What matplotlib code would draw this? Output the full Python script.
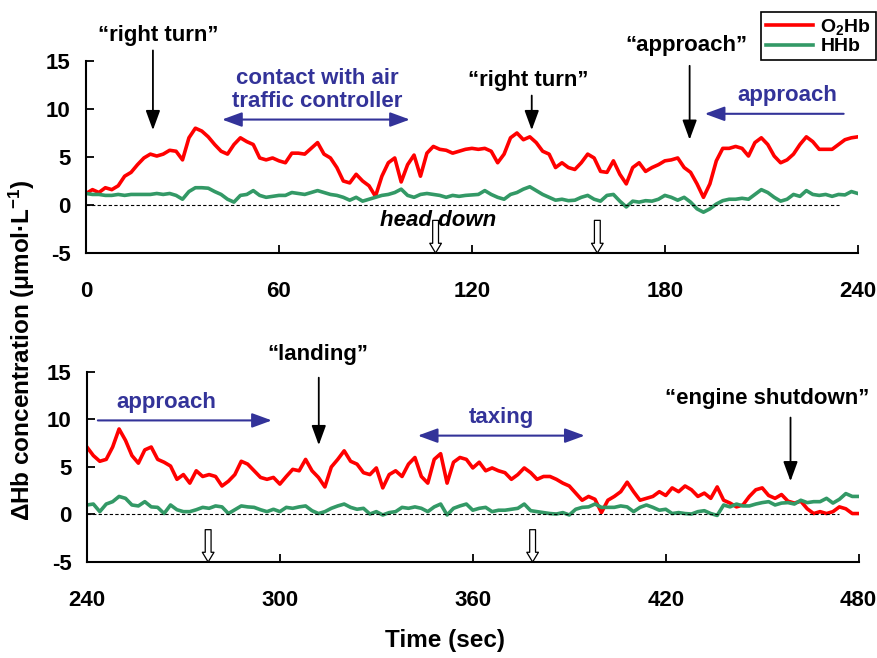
import numpy as np
import matplotlib
matplotlib.use("Agg")
import matplotlib.pyplot as plt

plt.rcParams['font.family'] = ['Liberation Sans', 'DejaVu Sans']
plt.rcParams['font.weight'] = 'bold'
plt.rcParams['axes.unicode_minus'] = False
plt.rcParams['mathtext.fontset'] = 'custom'
plt.rcParams['mathtext.rm'] = 'Liberation Sans:bold'
plt.rcParams['mathtext.bf'] = 'Liberation Sans:bold'
plt.rcParams['mathtext.it'] = 'Liberation Sans:bold:italic'

# time axis, 2 s steps
t_top = np.arange(0, 241, 2)
t_bot = np.arange(240, 481, 2)

o2hb_top = [1.2, 1.6, 1.3, 1.8, 1.6, 2.0, 3.0, 3.4, 4.2, 4.9, 5.3, 5.1, 5.3, 5.7, 5.6,
            4.7, 7.0, 8.0, 7.7, 7.1, 6.3, 5.6, 5.3, 6.3, 7.0, 6.6, 6.3, 4.9, 4.7, 4.9,
            4.6, 4.4, 5.4, 5.4, 5.3, 5.9, 6.5, 5.3, 4.9, 3.9, 2.5, 2.3, 3.2, 2.5, 2.0,
            0.9, 3.0, 4.4, 4.9, 2.4, 4.2, 5.2, 3.0, 5.4, 6.1, 5.8, 5.7, 5.4, 5.6, 5.8,
            5.9, 5.8, 5.9, 5.6, 4.4, 5.3, 7.0, 7.5, 6.8, 7.1, 6.5, 5.6, 5.3, 3.9, 4.4,
            3.9, 3.7, 4.4, 5.3, 4.9, 3.5, 3.4, 4.6, 3.2, 2.2, 3.9, 4.4, 3.5, 3.9, 4.2,
            4.6, 4.7, 4.9, 3.9, 3.4, 2.2, 0.8, 2.2, 4.6, 5.9, 5.9, 6.1, 5.9, 5.1, 6.5,
            7.0, 6.3, 5.1, 4.4, 4.7, 5.3, 6.3, 7.1, 6.6, 5.8, 5.8, 5.8, 6.3, 6.8, 7.0,
            7.1]
hhb_top = [1.2, 1.1, 1.1, 1.0, 1.0, 1.1, 1.0, 1.1, 1.1, 1.1, 1.1, 1.2, 1.1, 1.2, 1.0,
           0.6, 1.4, 1.8, 1.8, 1.75, 1.4, 1.1, 0.6, 0.3, 1.0, 1.1, 1.5, 1.0, 0.8, 0.9,
           1.0, 1.0, 1.3, 1.2, 1.1, 1.3, 1.5, 1.3, 1.1, 1.0, 0.8, 0.5, 0.8, 0.4, 0.6,
           0.8, 1.0, 1.1, 1.3, 1.65, 1.0, 0.8, 1.1, 1.2, 1.1, 1.0, 0.8, 1.0, 0.9, 1.0,
           1.05, 1.1, 1.5, 1.1, 0.8, 0.6, 1.1, 1.3, 1.65, 1.9, 1.5, 1.1, 0.8, 0.5, 0.6,
           0.45, 0.5, 0.8, 1.0, 0.6, 0.4, 1.0, 1.1, 0.4, -0.2, 0.4, 0.3, 0.45, 0.4, 0.6,
           1.0, 0.8, 0.5, 0.8, 0.3, -0.4, -0.75, -0.4, 0.1, 0.45, 0.6, 0.6, 0.7, 0.6, 1.1,
           1.6, 1.3, 0.8, 0.4, 0.6, 1.1, 0.9, 1.5, 1.1, 1.0, 1.1, 0.9, 1.1, 1.05, 1.4,
           1.2]

o2hb_bot = [7.1, 6.2, 5.6, 5.8, 7.1, 9.0, 7.8, 6.2, 5.4, 6.8, 7.1, 5.8, 5.5, 5.1, 3.7,
            4.2, 3.3, 4.6, 4.0, 4.2, 4.0, 3.0, 3.5, 4.2, 5.6, 5.3, 4.6, 3.9, 3.7, 3.9,
            3.2, 4.0, 4.75, 4.6, 5.8, 4.6, 3.9, 2.9, 5.0, 5.8, 6.7, 5.6, 5.3, 4.4, 4.2,
            4.9, 2.8, 4.2, 4.6, 4.0, 5.3, 6.0, 4.0, 3.3, 5.8, 6.4, 3.3, 5.5, 6.0, 5.8,
            4.9, 5.5, 4.6, 4.9, 4.6, 4.4, 3.7, 4.2, 4.9, 4.4, 3.7, 4.0, 4.0, 3.7, 3.3,
            3.0, 2.25, 1.5, 1.9, 1.6, 0.2, 1.5, 1.9, 2.4, 3.4, 2.4, 1.5, 1.7, 1.9, 2.4,
            2.0, 2.8, 2.4, 3.0, 2.6, 1.9, 2.25, 1.7, 2.9, 1.5, 1.2, 0.8, 1.0, 1.9, 2.6,
            2.8, 2.0, 1.7, 2.1, 1.4, 1.2, 1.4, 0.6, 0.1, 0.3, 0.1, 0.3, 0.8, 0.6, 0.1,
            0.1]
hhb_bot = [1.0, 1.1, 0.3, 1.1, 1.35, 1.9, 1.7, 1.0, 0.9, 1.35, 0.8, 0.75, 0.1, 1.0, 0.5,
           0.3, 0.3, 0.5, 0.75, 0.65, 0.9, 0.8, 0.1, 0.5, 0.9, 0.8, 0.75, 0.5, 0.3, 0.55,
           0.3, 0.75, 0.65, 0.8, 0.9, 0.4, 0.1, 0.3, 0.65, 0.9, 1.1, 0.75, 0.55, 0.65, 0.05,
           0.3, -0.05, 0.2, 0.3, 0.75, 0.65, 0.8, 0.65, 0.3, 0.8, 1.1, -0.05, 0.65, 0.9, 1.1,
           0.45, 0.65, 0.75, 0.3, 0.45, 0.45, 0.55, 0.65, 1.1, 0.4, 0.3, 0.2, 0.1, 0.05, 0.2,
           -0.05, 0.55, 0.75, 0.8, 1.1, 0.75, 0.75, 0.75, 0.9, 0.8, 0.3, 0.75, 1.0, 0.75, 0.45,
           0.55, 0.1, 0.2, 0.1, 0.05, 0.3, 0.4, 0.1, -0.1, 1.0, 0.8, 1.1, 0.9, 0.9, 1.1,
           1.25, 1.35, 1.0, 1.2, 1.25, 1.1, 1.5, 1.25, 1.35, 1.35, 1.7, 1.2, 1.6, 2.2, 1.9,
           1.9]

head_down_top = [108.7, 159.0]
head_down_bot = [277.7, 378.6]

RED = '#ff0000'
GREEN = '#339966'
BLUE = '#333399'
FS = 16

fig = plt.figure(figsize=(8.78, 6.58), dpi=100)
ax1 = fig.add_axes([0.098, 0.6155, 0.879, 0.2918])
ax2 = fig.add_axes([0.099, 0.1459, 0.879, 0.2888])


def setup(ax, t, o2, hh, x0):
    ax.plot(t, o2, color=RED, lw=2.6, label='O$_2$Hb')
    ax.plot(t, hh, color=GREEN, lw=2.6, label='HHb')
    ax.plot([x0, x0 + 234], [0, 0], color='black', lw=0.8, ls=(0, (3, 2)))
    ax.set_xlim(x0, x0 + 240)
    ax.set_ylim(-5, 15)
    ax.set_xticks(np.arange(x0, x0 + 241, 60))
    ax.set_yticks([-5, 0, 5, 10, 15])
    for s in ['top', 'right']:
        ax.spines[s].set_visible(False)
    for s in ['left', 'bottom']:
        ax.spines[s].set_linewidth(1.5)
    ax.tick_params(axis='x', direction='in', length=6, width=1.3, pad=20, labelsize=16)
    ax.tick_params(axis='y', direction='in', length=6, width=1.3, pad=11, labelsize=16)


def hollow_arrow(ax, x):
    ax.annotate('', xy=(x, -5), xytext=(x, -1.6), annotation_clip=False,
                arrowprops=dict(arrowstyle='simple,head_width=0.6,head_length=0.5,tail_width=0.3',
                                fc='white', ec='black', lw=0.9, mutation_scale=14,
                                shrinkA=0, shrinkB=0))


def black_arrow(ax, x, y0, y1):
    ax.annotate('', xy=(x, y1), xytext=(x, y0), annotation_clip=False,
                arrowprops=dict(arrowstyle='-|>,head_width=0.22,head_length=0.6', color='black',
                                lw=1.3, mutation_scale=20, shrinkA=0, shrinkB=0))


def blue_arrow(ax, x0, x1, y, style='-|>'):
    ax.annotate('', xy=(x1, y), xytext=(x0, y), annotation_clip=False,
                arrowprops=dict(arrowstyle=style + ',head_width=0.22,head_length=0.6', color=BLUE,
                                lw=1.5, mutation_scale=20, shrinkA=0, shrinkB=0))


setup(ax1, t_top, o2hb_top, hhb_top, 0)
setup(ax2, t_bot, o2hb_bot, hhb_bot, 240)

# top panel annotations
ax1.text(22.5, 17.7, '\u201cright turn\u201d', ha='center', va='center', fontsize=FS)
black_arrow(ax1, 20.8, 16.1, 7.8)
ax1.text(72, 12.0, 'contact with air\ntraffic controller', ha='center', va='center',
         fontsize=FS, color=BLUE, linespacing=1.1)
blue_arrow(ax1, 42.3, 100.7, 8.9, '<|-|>')
ax1.text(137.5, 13.0, '\u201cright turn\u201d', ha='center', va='center', fontsize=FS)
black_arrow(ax1, 138.6, 11.4, 7.8)
ax1.text(186.7, 16.6, '\u201capproach\u201d', ha='center', va='center', fontsize=FS)
black_arrow(ax1, 187.7, 14.5, 6.8)
ax1.text(218, 11.4, 'approach', ha='center', va='center', fontsize=FS, color=BLUE)
blue_arrow(ax1, 235.6, 192.4, 9.5)
ax1.text(109.4, -1.65, 'head down', ha='center', va='center', fontsize=FS, style='italic')
for x in head_down_top:
    hollow_arrow(ax1, x)

# bottom panel annotations
ax2.text(264.7, 11.8, 'approach', ha='center', va='center', fontsize=FS, color=BLUE)
blue_arrow(ax2, 243.4, 297.5, 9.9)
ax2.text(311.8, 16.8, '\u201clanding\u201d', ha='center', va='center', fontsize=FS)
black_arrow(ax2, 312.1, 14.4, 7.3)
ax2.text(369, 10.2, 'taxing', ha='center', va='center', fontsize=FS, color=BLUE)
blue_arrow(ax2, 342.9, 394.8, 8.3, '<|-|>')
ax2.text(451.6, 12.2, '\u201cengine shutdown\u201d', ha='center', va='center', fontsize=FS)
black_arrow(ax2, 458.8, 10.2, 3.5)
for x in head_down_bot:
    hollow_arrow(ax2, x)

h, l = ax1.get_legend_handles_labels()
leg = fig.legend(h, l, loc='upper right', bbox_to_anchor=(876 / 878, 1 - 12 / 658),
                 fancybox=False, edgecolor='black', framealpha=1, fontsize=14,
                 handlelength=2.4, handletextpad=0.4, borderpad=0.25, labelspacing=0.05,
                 borderaxespad=0)
leg.get_frame().set_linewidth(1.2)

fig.text(22 / 878, 1 - 350 / 658, '\u0394Hb concentration (\u03bcmol\u00b7L$^{-1}$)',
         rotation=90, ha='center', va='center', fontsize=17.5)
fig.text(445 / 878, 1 - 641 / 658, 'Time (sec)', ha='center', va='center', fontsize=17.5)

fig.savefig('out.png', dpi=100)
